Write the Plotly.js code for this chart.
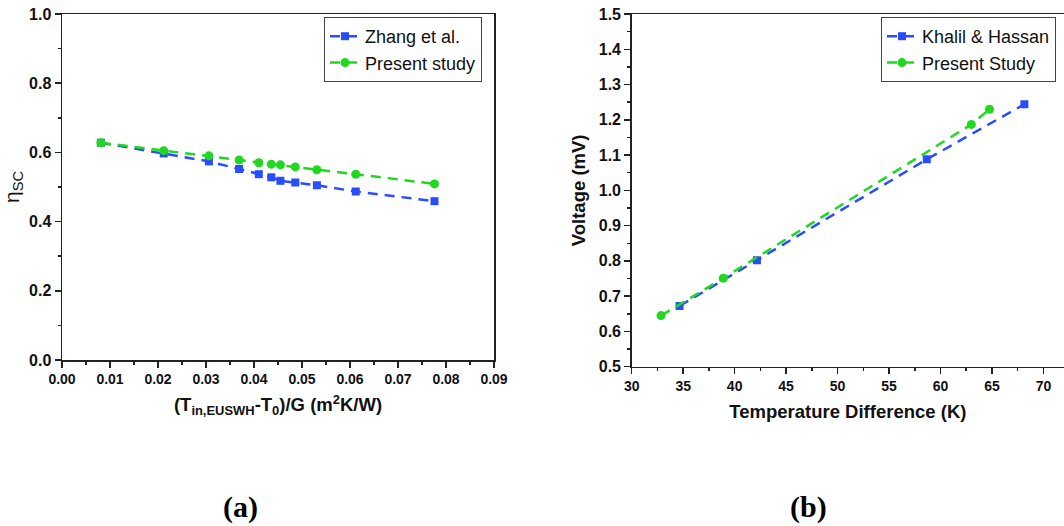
<!DOCTYPE html>
<html>
<head>
<meta charset="utf-8">
<script src="https://cdn.plot.ly/plotly-3.0.1.min.js"></script>
<style>html,body{margin:0;padding:0;background:#fff;}#chart{width:1064px;height:526px;}</style>
</head>
<body>
<div id="chart"></div>
<script>
// Panel (a): collector efficiency vs reduced temperature
const aX = [0.0081, 0.0212, 0.0306, 0.0369, 0.0410, 0.0436, 0.0455, 0.0486, 0.0531, 0.0612, 0.0776];
const zhangY = [0.628, 0.597, 0.574, 0.552, 0.537, 0.528, 0.518, 0.513, 0.505, 0.487, 0.459];
const presentAY = [0.628, 0.605, 0.590, 0.578, 0.570, 0.566, 0.564, 0.558, 0.550, 0.537, 0.509];

// Panel (b): voltage vs temperature difference
const khalilX = [34.65, 42.17, 58.67, 68.15];
const khalilY = [0.672, 0.802, 1.088, 1.244];
const presentBX = [32.85, 38.9, 63.0, 64.76];
const presentBY = [0.645, 0.751, 1.187, 1.230];

const seriesNames = ["Zhang et al.", "Present study", "Khalil & Hassan", "Present Study"];
const panelLabels = ["(a)", "(b)"];

const BLUE = "#2a4cff", GREEN = "#1fd81f";
const W = 1064, H = 526;
const px = v => v / W, py = v => (H - v) / H;
const SANS = "Liberation Sans, Arial, sans-serif";

const xTickFont = {family: SANS, size: 14, color: "#111", weight: "bold"};
const yTickFont = {family: SANS, size: 16, color: "#111", weight: "bold"};
const titleFont = {family: SANS, size: 18.5, color: "#111", weight: "bold"};
const DASH = "10px,7px";

const traces = [
  {x: aX, y: zhangY, name: seriesNames[0], xaxis: "x", yaxis: "y", legend: "legend",
   mode: "lines+markers", line: {color: BLUE, width: 2.5, dash: DASH},
   marker: {symbol: "square", size: 8, color: BLUE}},
  {x: aX, y: presentAY, name: seriesNames[1], xaxis: "x", yaxis: "y", legend: "legend",
   mode: "lines+markers", line: {color: GREEN, width: 2.5, dash: DASH},
   marker: {symbol: "circle", size: 9, color: GREEN}},
  {x: khalilX, y: khalilY, name: seriesNames[2], xaxis: "x2", yaxis: "y2", legend: "legend2",
   mode: "lines+markers", line: {color: BLUE, width: 2.5, dash: DASH},
   marker: {symbol: "square", size: 8, color: BLUE}},
  {x: presentBX, y: presentBY, name: seriesNames[3], xaxis: "x2", yaxis: "y2", legend: "legend2",
   mode: "lines+markers", line: {color: GREEN, width: 2.5, dash: DASH},
   marker: {symbol: "circle", size: 9, color: GREEN}}
];

const axisBase = {
  showgrid: false, zeroline: false, showline: true, linecolor: "#222", linewidth: 1.5,
  ticks: "outside", ticklen: 6, tickwidth: 1.5, tickcolor: "#222"
};

const legendFont = {family: SANS, size: 18, color: "#111"};

const layout = {
  width: W, height: H,
  margin: {l: 0, r: 0, t: 0, b: 0},
  paper_bgcolor: "#fff", plot_bgcolor: "#fff",
  xaxis: Object.assign({}, axisBase, {
    domain: [px(62), px(494)], range: [0, 0.09], dtick: 0.01, tick0: 0, tickformat: ".2f",
    mirror: true, anchor: "y", tickfont: xTickFont,
    minor: {ticks: "outside", ticklen: 3, dtick: 0.005, tickcolor: "#222"},
    title: {text: "(T<sub>in,EUSWH</sub>-T<sub>0</sub>)/G (m<sup>2</sup>K/W)", font: titleFont, standoff: 12}
  }),
  yaxis: Object.assign({}, axisBase, {
    domain: [py(360), py(14)], range: [0, 1.0], dtick: 0.2, tick0: 0, tickformat: ".1f",
    mirror: true, anchor: "x", tickfont: yTickFont,
    minor: {ticks: "outside", ticklen: 3, dtick: 0.1, tickcolor: "#222"},
    title: {text: "η<sub>SC</sub>", font: {family: SANS, size: 21, color: "#111"}, standoff: 8}
  }),
  xaxis2: Object.assign({}, axisBase, {
    domain: [px(631.7), 1], range: [30, 72], dtick: 5, tick0: 30,
    mirror: true, anchor: "y2", tickfont: xTickFont,
    minor: {ticks: "outside", ticklen: 3, dtick: 2.5, tickcolor: "#222"},
    title: {text: "Temperature Difference (K)", font: titleFont, standoff: 12}
  }),
  yaxis2: Object.assign({}, axisBase, {
    domain: [py(366.7), py(14)], range: [0.5, 1.5], dtick: 0.1, tick0: 0.5, tickformat: ".1f",
    anchor: "x2", tickfont: yTickFont,
    minor: {ticks: "outside", ticklen: 3, dtick: 0.05, tickcolor: "#222"},
    title: {text: "Voltage (mV)", font: titleFont, standoff: 8}
  }),
  legend: {x: px(324), y: py(17), xanchor: "left", yanchor: "top", bgcolor: "#fff",
    bordercolor: "#444", borderwidth: 1, font: legendFont, tracegroupgap: 0, itemwidth: 30},
  legend2: {x: px(881), y: py(17), xanchor: "left", yanchor: "top", bgcolor: "#fff",
    bordercolor: "#444", borderwidth: 1, font: legendFont, tracegroupgap: 0, itemwidth: 30},
  annotations: [
    {text: panelLabels[0], xref: "paper", yref: "paper", x: px(240), y: py(507),
     xanchor: "center", yanchor: "middle", showarrow: false,
     font: {family: "Liberation Serif, Times New Roman, serif", size: 30, color: "#000", weight: "bold"}},
    {text: panelLabels[1], xref: "paper", yref: "paper", x: px(808), y: py(507),
     xanchor: "center", yanchor: "middle", showarrow: false,
     font: {family: "Liberation Serif, Times New Roman, serif", size: 30, color: "#000", weight: "bold"}}
  ]
};

Plotly.newPlot("chart", traces, layout, {displayModeBar: false, staticPlot: true});
</script>
</body>
</html>
